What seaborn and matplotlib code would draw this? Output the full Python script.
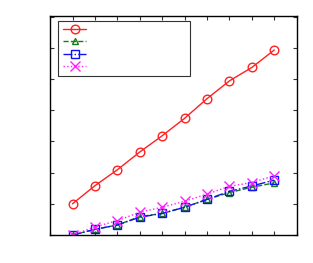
import matplotlib
matplotlib.use("Agg")
import matplotlib.pyplot as plt
import seaborn as sns
import pandas as pd

x = [1, 2, 3, 4, 5, 6, 7, 8, 9, 10]
s_red = [1.00, 1.58, 2.09, 2.66, 3.18, 3.74, 4.37, 4.94, 5.37, 5.93]
s_green = [0.00, 0.18, 0.32, 0.59, 0.69, 0.89, 1.14, 1.36, 1.53, 1.67]
s_blue = [0.00, 0.18, 0.32, 0.57, 0.69, 0.89, 1.14, 1.40, 1.57, 1.76]
s_magenta = [0.00, 0.26, 0.46, 0.73, 0.89, 1.08, 1.31, 1.56, 1.68, 1.90]

sns.set_style("ticks")
fig = plt.figure(figsize=(3.13, 2.63), dpi=100)
ax = fig.add_axes([0.16, 0.1065, 0.788, 0.834])

styles = [
    (s_red, "#ff2020", "-", "o", 6.2),
    (s_green, "#1a7a1a", "--", "^", 5),
    (s_blue, "#1010ff", "-.", "s", 5.8),
    (s_magenta, "#ff20ff", ":", "x", 6.5),
]
for vals, col, ls, mk, ms in styles:
    df = pd.DataFrame({"x": x, "y": vals})
    sns.lineplot(data=df, x="x", y="y", ax=ax, color=col, linestyle=ls,
                 marker=mk, markersize=ms, markerfacecolor="none",
                 markeredgecolor=col, markeredgewidth=1.0, linewidth=1.0,
                 label=" ")

ax.set_xlim(0, 11)
ax.set_ylim(0, 7.03)
ax.set_xticks(range(0, 12))
ax.set_yticks(range(0, 8))
ax.tick_params(direction="in", length=3, width=0.8, top=True, right=True,
               labelbottom=False, labelleft=False, color="#333333")
ax.set_xlabel("")
ax.set_ylabel("")
for sp in ax.spines.values():
    sp.set_visible(True)
    sp.set_linewidth(1.0)
    sp.set_color("black")

leg = ax.legend(loc="upper left", bbox_to_anchor=(0.034, 0.977, 0.535, 0.0),
                mode="expand", borderaxespad=0, fontsize=8, handlelength=2.1,
                labelspacing=0.2, borderpad=0.4, handletextpad=0.5,
                fancybox=False, framealpha=1, edgecolor="#333333")
leg.get_frame().set_linewidth(0.8)

fig.savefig("out.png", dpi=100)
